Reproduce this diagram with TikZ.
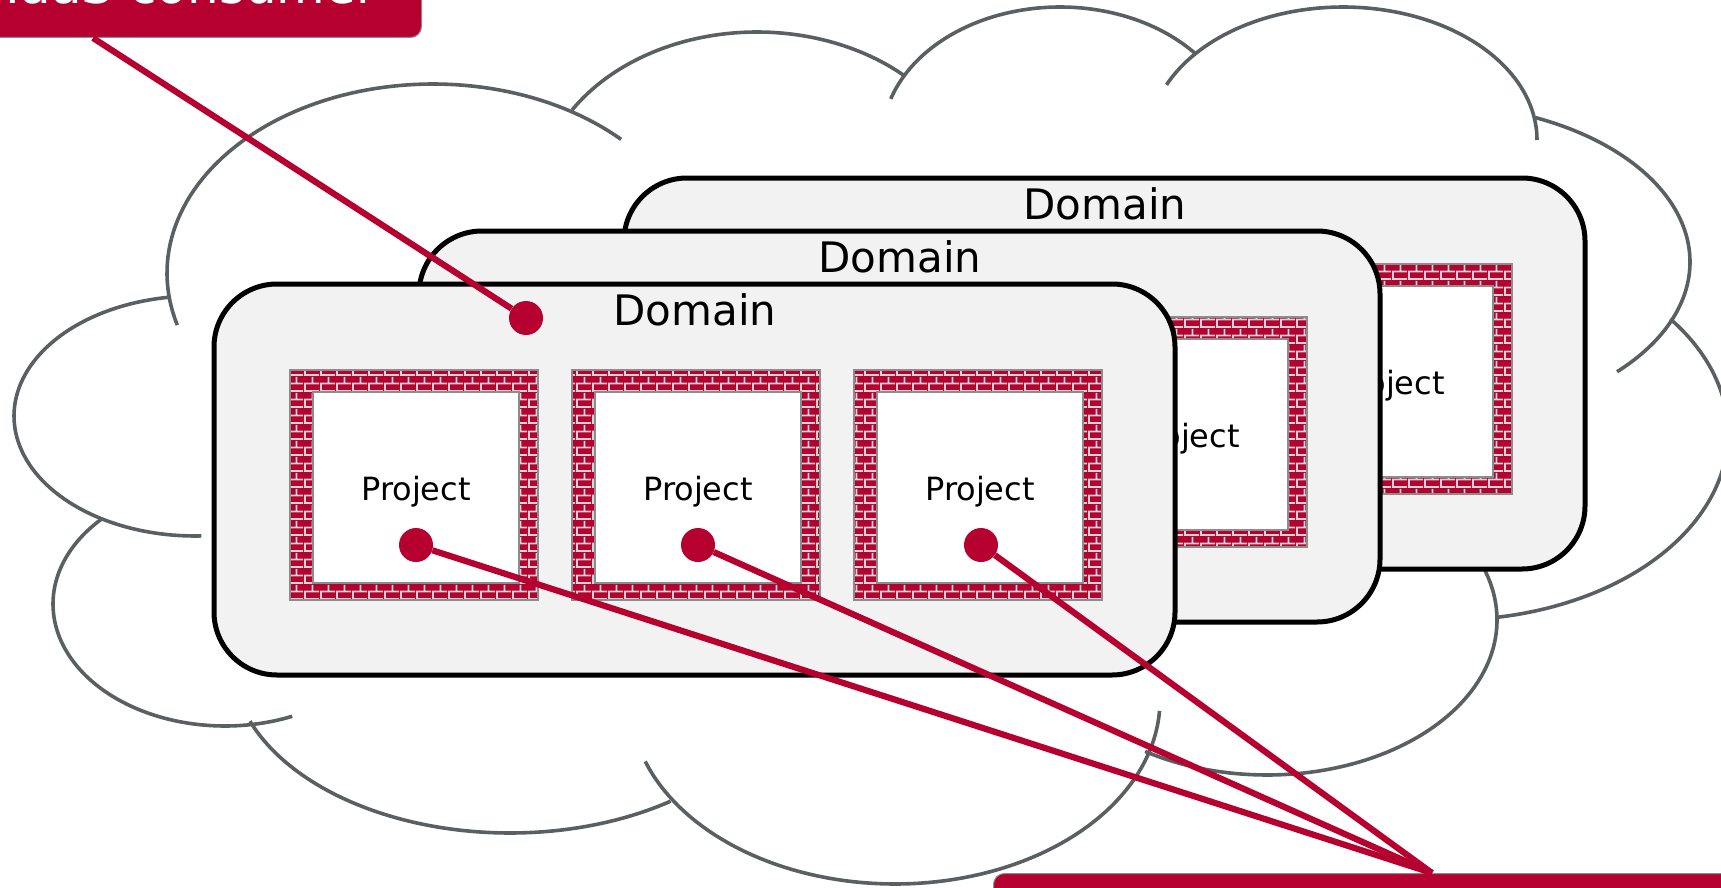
\documentclass[tikz,border=0pt]{standalone}
\usepackage{fontspec}
\setmainfont{DejaVu Sans}
\usetikzlibrary{patterns}
\definecolor{crim}{RGB}{181,0,48}
\definecolor{cloudgray}{RGB}{90,96,98}
\definecolor{domfill}{RGB}{242,242,242}
\definecolor{mortar}{RGB}{214,214,214}
\definecolor{framegray}{RGB}{140,140,140}
\pgfdeclarepatternformonly{brickwall}{\pgfpointorigin}{\pgfpoint{16pt}{16pt}}{\pgfpoint{16pt}{16pt}}{%
  \pgfsetlinewidth{2pt}%
  \pgfpathmoveto{\pgfpoint{0pt}{1pt}}\pgfpathlineto{\pgfpoint{16pt}{1pt}}%
  \pgfpathmoveto{\pgfpoint{0pt}{9pt}}\pgfpathlineto{\pgfpoint{16pt}{9pt}}%
  \pgfpathmoveto{\pgfpoint{1pt}{0pt}}\pgfpathlineto{\pgfpoint{1pt}{8pt}}%
  \pgfpathmoveto{\pgfpoint{9pt}{8pt}}\pgfpathlineto{\pgfpoint{9pt}{16pt}}%
  \pgfusepath{stroke}}
\newcommand\cloudarc[6]{\draw[cloudline] plot[domain=#5:#6, samples=80, variable=\t] ({#1+#3*cos(\t)},{#2-#4*sin(\t)});}
\newcommand\domainlayer[3]{%
\begin{scope}[shift={(#2,#3)}]
 \node[domainbox] (#1dom) at (694.5,479.5) {};
 \node[domaintext] (#1lab) at (695,325) {Domain};
 \foreach \k in {0,1,2}{
   \node[brickframe] (#1f\k) at ({414+282*\k},485) {};
   \node[framehole] (#1h\k) at ({416+282*\k},487.5) {};
   \node[projtext] (#1p\k) at ({416+282*\k},500) {Project};
 }
\end{scope}}
\begin{document}
\begin{tikzpicture}[x=1pt,y=-1pt,
  cloudline/.style={draw=cloudgray,line width=3.6},
  domainbox/.style={draw=black,fill=domfill,line width=5,rounded corners=63,minimum width=961,minimum height=391,inner sep=0,outer sep=0},
  domaintext/.style={font=\fontsize{42}{50}\selectfont,anchor=base,inner sep=0},
  brickframe/.style={preaction={fill=crim},pattern=brickwall,pattern color=mortar,draw=framegray,line width=1.2,minimum width=248,minimum height=230,inner sep=0},
  framehole/.style={draw=framegray,line width=1.2,fill=white,minimum width=206,minimum height=191,inner sep=0},
  projtext/.style={font=\fontsize{32}{38}\selectfont,anchor=base,inner sep=0},
  dot/.style={circle,fill=crim,minimum size=34,inner sep=0},
  link/.style={draw=crim,line width=6.2},
  labelbox/.style={fill=crim,draw=framegray,line width=1,rounded corners=11,inner sep=0},
  labeltext/.style={text=white,font=\fontsize{50}{60}\selectfont,inner sep=0}
]
\useasboundingbox (0,0) rectangle (1721,888);
% cloud
\cloudarc{433}{273}{266}{189}{45}{196}
\cloudarc{195}{416}{181}{120}{98}{272}
\cloudarc{225}{604}{172}{122}{136}{293}
\cloudarc{510}{660}{278}{173}{200.7}{305.3}
\cloudarc{895}{700}{265}{184}{199.5}{356.6}
\cloudarc{1267}{620}{230}{155}{-122}{25}
\cloudarc{1450}{433}{278}{187}{-80}{37.6}
\cloudarc{1430}{262}{260}{158}{-44}{66}
\cloudarc{1343}{140}{194}{133}{0}{155.5}
\cloudarc{1060}{140}{178}{133}{40.6}{162}
\cloudarc{757}{200}{219}{168}{48}{147.6}
% domains
\domainlayer{b}{410}{-106}
\domainlayer{m}{205}{-53}
\domainlayer{f}{0}{0}
% labels
\node[labelbox,minimum width=520,minimum height=120,anchor=south east] (consumer) at (422,38) {};
\node[labeltext,anchor=base east] (consumertext) at (377,4) {IaaS consumer};
\node[labelbox,minimum width=800,minimum height=100,anchor=north west] (member) at (993,873) {};
\coordinate (cpt) at (93,38);
\coordinate (mpt) at (1432,873);
% dots
\node[dot] (tdot) at (526,318) {};
\node[dot] (dot0) at (416,545) {};
\node[dot] (dot1) at (698,545) {};
\node[dot] (dot2) at (981,545) {};
% connectors
\draw[link] (tdot) -- (cpt);
\draw[link] (dot0) -- (mpt);
\draw[link] (dot1) -- (mpt);
\draw[link] (dot2) -- (mpt);
\end{tikzpicture}
\end{document}
